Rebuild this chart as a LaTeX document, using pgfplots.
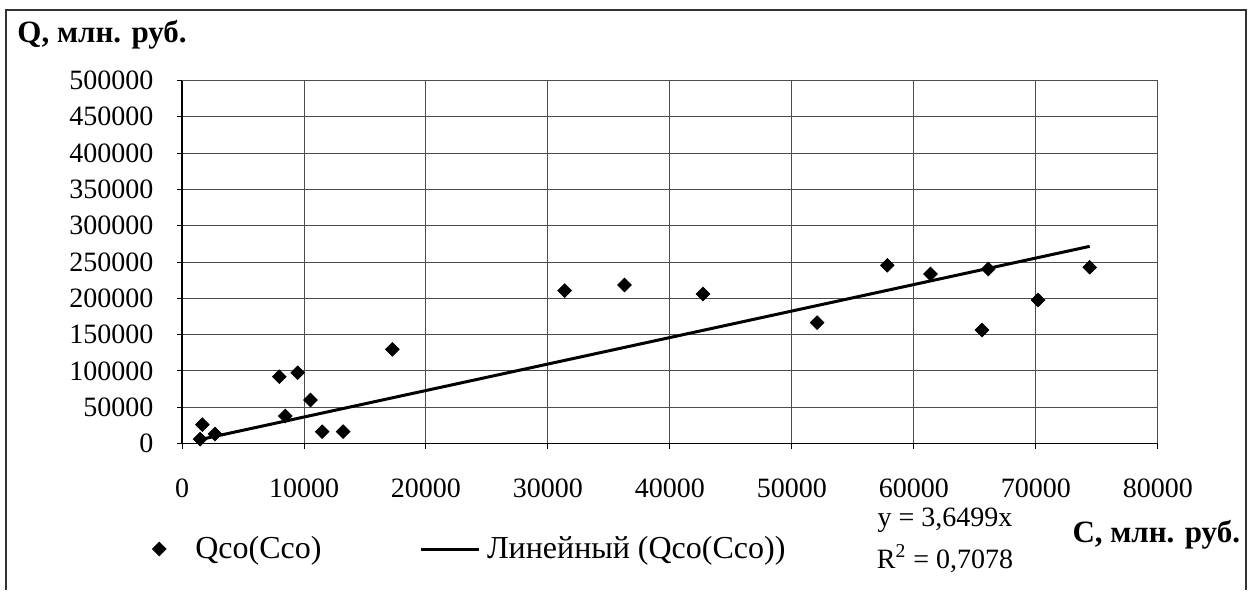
\documentclass[border=0pt]{standalone}
\usepackage{fontspec}
\setmainfont{Liberation Serif}
\usepackage{pgfplots}
\pgfplotsset{compat=1.18}
\pgfplotsset{
  diamondlegend/.style={legend image code/.code={%
    \draw[##1] plot coordinates {(7.5pt,0pt)};\path[draw=none] (0pt,0pt) -- (25.5pt,0pt);}},
  linelegend/.style={legend image code/.code={%
    \draw[##1] (0pt,0pt) -- (29pt,0pt);\path[draw=none] (29pt,0pt) -- (33pt,0pt);}},
}

\pgfplotstableread{
C      Q
1480   6000
1670   25900
2710   13100
7980   92000
8470   37900
9480   97500
10530  59900
11490  16300
13210  16300
17240  129700
31360  210500
36270  218300
42710  205900
52060  166400
57810  245400
61350  233500
65570  156300
66090  240300
70170  197700
74400  242700
}\qco

\begin{document}
\fontsize{14}{16}\selectfont
\begin{tikzpicture}
% pixel frame: 1px = 0.5pt, origin top left
\begin{scope}[x=0.5pt,y=-0.5pt,shift={(0,295pt)}]
  \path (0,0) rectangle (1256,590);
  \draw[line width=1pt,black!80] (6,590) -- (6,10) -- (1246,10) -- (1246,590);
  \node[align=center,inner sep=0pt] at (945,540) {y = 3,6499x\\[5pt]R\textsuperscript{2} = 0,7078};
\end{scope}

\begin{axis}[
  at={(91pt,73.25pt)}, anchor=south west,
  scale only axis, width=488pt, height=181.5pt,
  xmin=0, xmax=80000, ymin=0, ymax=500000,
  xtick={0,10000,...,80000},
  ytick={0,50000,...,500000},
  scaled ticks=false,
  /pgf/number format/.cd, fixed, 1000 sep={}, assume math mode=true, /pgfplots/.cd,
  axis lines*=left, axis line style={-,black,line width=0.7pt},
  grid=major, major grid style={black!70,line width=0.5pt},
  tick align=outside, major tick length=2.5pt, tick style={black,line width=0.5pt},
  xticklabel style={yshift=-10.5pt},
  yticklabel style={xshift=-7pt},
  xlabel={\fontsize{15.5}{17}\selectfont\bfseries С, млн. руб.},
  xlabel style={at={(axis description cs:0.912,-0.252)},anchor=west,inner sep=0pt},
  ylabel={\fontsize{15.5}{17}\selectfont\bfseries Q, млн. руб.},
  ylabel style={at={(axis description cs:-0.169,1.125)},anchor=west,rotate=-90,inner sep=0pt},
  legend style={at={(axis description cs:-0.039,-0.2906)},anchor=west,draw=none,fill=none,
    inner sep=0pt,legend columns=2,
    nodes={inner sep=0pt},
    font=\fontsize{16}{18}\selectfont,
    /tikz/every even column/.append style={column sep=49pt}},
]
\addplot[only marks,mark=square*,mark size=2.4pt,mark options={rotate=45,fill=black},diamondlegend]
  table[x=C,y=Q] {\qco};
\addlegendentry{Qco(Cco)}
\addplot[black,line width=1.5pt,no marks,linelegend]
  coordinates {(1480,5402) (74400,271553)};
\addlegendentry{Линейный (Qco(Cco))}
\end{axis}
\end{tikzpicture}
\end{document}
